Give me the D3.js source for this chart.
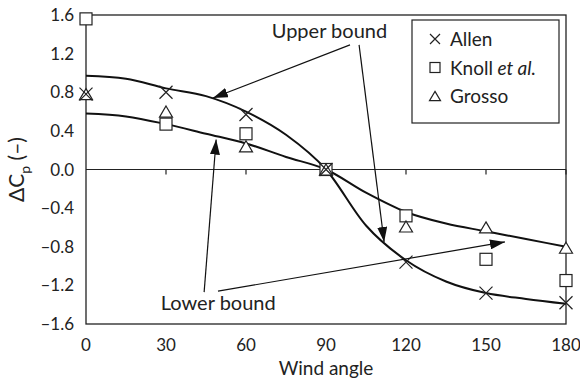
<!DOCTYPE html>
<html>
<head>
<meta charset="utf-8">
<script src="https://cdn.jsdelivr.net/npm/d3@7"></script>
<style>
  body { margin: 0; background: #fff; }
  svg { display: block; font-family: Lato, "Open Sans", sans-serif; }
</style>
</head>
<body>
<div id="chart"></div>
<script>
// measured points (wind angle in degrees)
const angles = [0, 30, 60, 90, 120, 150, 180];
const allen = [0.78, 0.80, 0.57, 0, -0.96, -1.28, -1.38];
const knoll = [1.56, 0.47, 0.37, 0, -0.48, -0.93, -1.15];
const grosso = [0.78, 0.60, 0.24, 0, -0.59, -0.60, -0.81];

// bound curves
const boundAngles = [0, 15, 30, 45, 60, 75, 90, 105, 120, 135, 150, 165, 180];
const upperBound = [0.97, 0.94, 0.84, 0.76, 0.60, 0.36, 0, -0.58, -0.94, -1.16, -1.28, -1.34, -1.39];
const lowerBound = [0.58, 0.55, 0.47, 0.37, 0.27, 0.13, 0, -0.24, -0.44, -0.56, -0.64, -0.72, -0.80];

const xTicks = [0, 30, 60, 90, 120, 150, 180];
const yTicks = [1.6, 1.2, 0.8, 0.4, 0.0, -0.4, -0.8, -1.2, -1.6];

const width = 580, height = 386;
const margin = { top: 15, right: 14, bottom: 62, left: 86 };

const svg = d3.select("#chart").append("svg")
  .attr("width", width)
  .attr("height", height);

const x = d3.scaleLinear().domain([0, 180]).range([margin.left, width - margin.right]);
const y = d3.scaleLinear().domain([-1.6, 1.6]).range([height - margin.bottom, margin.top]);

const fmt = v => (v < 0 ? "\u2013" : "") + Math.abs(v).toFixed(1);

// arrow head
svg.append("defs").append("marker")
  .attr("id", "head")
  .attr("markerUnits", "userSpaceOnUse")
  .attr("viewBox", "0 0 15 10")
  .attr("refX", 15).attr("refY", 5)
  .attr("markerWidth", 15).attr("markerHeight", 10)
  .attr("orient", "auto")
  .append("path")
  .attr("d", "M0,0 L15,5 L0,10 Z")
  .attr("fill", "#111");

// frame
svg.append("rect")
  .attr("x", x(0)).attr("y", y(1.6))
  .attr("width", x(180) - x(0)).attr("height", y(-1.6) - y(1.6))
  .attr("fill", "none").attr("stroke", "#222").attr("stroke-width", 1.3);

// zero line with ticks hanging down
svg.append("line")
  .attr("x1", x(0)).attr("x2", x(180))
  .attr("y1", y(0)).attr("y2", y(0))
  .attr("stroke", "#222").attr("stroke-width", 1.2);

svg.append("g").selectAll("line")
  .data(xTicks.slice(1))
  .join("line")
  .attr("x1", d => x(d)).attr("x2", d => x(d))
  .attr("y1", y(0)).attr("y2", y(0) + 5)
  .attr("stroke", "#222").attr("stroke-width", 1.2);

// tick labels
svg.append("g").selectAll("text")
  .data(xTicks)
  .join("text")
  .attr("x", d => x(d))
  .attr("y", y(-1.6) + 27)
  .attr("text-anchor", "middle")
  .attr("font-size", 17)
  .attr("fill", "#222")
  .text(d => d);

svg.append("g").selectAll("text")
  .data(yTicks)
  .join("text")
  .attr("x", x(0) - 12)
  .attr("y", d => y(d) + 6)
  .attr("text-anchor", "end")
  .attr("font-size", 17)
  .attr("fill", "#222")
  .text(fmt);

// axis titles
svg.append("text")
  .attr("x", x(90))
  .attr("y", height - 11)
  .attr("text-anchor", "middle")
  .attr("font-size", 19)
  .attr("fill", "#222")
  .text("Wind angle");

const yTitle = svg.append("text")
  .attr("transform", `translate(24,${y(0)}) rotate(-90)`)
  .attr("text-anchor", "middle")
  .attr("font-size", 21)
  .attr("fill", "#222");
yTitle.append("tspan").text("\u0394C");
yTitle.append("tspan").attr("font-size", 14).attr("dy", 6).text("p");
yTitle.append("tspan").attr("dy", -6).text(" (\u2013)");

// bound curves
const line = d3.line()
  .x(d => x(d[0]))
  .y(d => y(d[1]))
  .curve(d3.curveMonotoneX);

[upperBound, lowerBound].forEach(vals => {
  svg.append("path")
    .datum(boundAngles.map((a, i) => [a, vals[i]]))
    .attr("d", line)
    .attr("fill", "none")
    .attr("stroke", "#111")
    .attr("stroke-width", 2);
});

// markers
const symStroke = "#222";
function drawCross(g, cx, cy, s) {
  g.append("path")
    .attr("d", `M${cx - s},${cy - s}L${cx + s},${cy + s}M${cx - s},${cy + s}L${cx + s},${cy - s}`)
    .attr("stroke", symStroke).attr("stroke-width", 1.2).attr("fill", "none");
}
function drawSquare(g, cx, cy, s) {
  g.append("rect")
    .attr("x", cx - s).attr("y", cy - s)
    .attr("width", 2 * s).attr("height", 2 * s)
    .attr("stroke", symStroke).attr("stroke-width", 1.2).attr("fill", "#fff");
}
function drawTriangle(g, cx, cy, s) {
  const h = s * 1.7;
  g.append("path")
    .attr("d", `M${cx},${cy - h / 2}L${cx + s},${cy + h / 2}L${cx - s},${cy + h / 2}Z`)
    .attr("stroke", symStroke).attr("stroke-width", 1.2).attr("fill", "#fff");
}

const pts = svg.append("g");
angles.forEach((a, i) => drawSquare(pts, x(a), y(knoll[i]), 6));
angles.forEach((a, i) => drawTriangle(pts, x(a), y(grosso[i]), 6.5));
angles.forEach((a, i) => drawCross(pts, x(a), y(allen[i]), 6.5));

// annotations (data coordinates)
const arrows = [
  [[99, 1.29], [47.6, 0.74]],
  [[102.4, 1.29], [111.8, -0.75]],
  [[44.3, -1.27], [48.8, 0.31]],
  [[49.5, -1.26], [157.1, -0.75]]
];
svg.append("g").selectAll("line")
  .data(arrows)
  .join("line")
  .attr("x1", d => x(d[0][0])).attr("y1", d => y(d[0][1]))
  .attr("x2", d => x(d[1][0])).attr("y2", d => y(d[1][1]))
  .attr("stroke", "#111").attr("stroke-width", 1.2)
  .attr("marker-end", "url(#head)");

svg.append("text")
  .attr("x", x(91.3)).attr("y", y(1.36))
  .attr("text-anchor", "middle")
  .attr("font-size", 20).attr("fill", "#222")
  .text("Upper bound");

svg.append("text")
  .attr("x", x(49.6)).attr("y", y(-1.46))
  .attr("text-anchor", "middle")
  .attr("font-size", 20).attr("fill", "#222")
  .text("Lower bound");

// legend
const legend = svg.append("g");
legend.append("rect")
  .attr("x", 412).attr("y", 20)
  .attr("width", 147).attr("height", 103)
  .attr("fill", "#fff").attr("stroke", "#222").attr("stroke-width", 1.2);

const legendRows = ["Allen", "Knoll", "Grosso"];
legendRows.forEach((name, i) => {
  const cy = 39 + i * 28.5;
  if (i === 0) drawCross(legend, 435, cy, 5);
  if (i === 1) drawSquare(legend, 435, cy, 5);
  if (i === 2) drawTriangle(legend, 435, cy, 5.5);
  const t = legend.append("text")
    .attr("x", 450).attr("y", cy + 7)
    .attr("font-size", 19).attr("fill", "#222");
  t.append("tspan").text(name);
  if (name === "Knoll") t.append("tspan").attr("font-style", "italic").text(" et al.");
});
</script>
</body>
</html>
